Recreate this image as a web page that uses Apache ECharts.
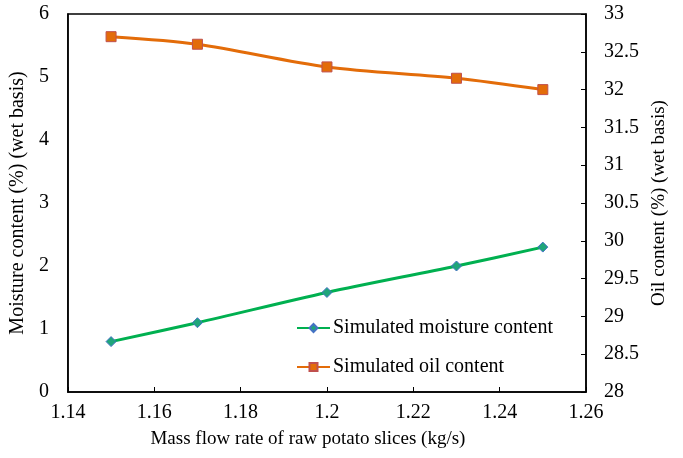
<!DOCTYPE html>
<html><head><meta charset="utf-8">
<script src="https://cdn.jsdelivr.net/npm/echarts@6/dist/echarts.min.js"></script>
<style>html,body{margin:0;padding:0;background:#fff}#c{width:683px;height:458px}</style>
</head><body><div id="c"></div>
<script>
var massFlow = [1.15, 1.17, 1.2, 1.23, 1.25];
var moisture = [0.8, 1.1, 1.58, 2.0, 2.3];
var oil = [32.7, 32.6, 32.3, 32.15, 32.0];
var seriesNames = ['Simulated moisture content', 'Simulated oil content'];

var font = 'Liberation Serif';
var chart = echarts.init(document.getElementById('c'));
chart.setOption({
  animation: false,
  grid: {left: 66, right: 97, top: 14, bottom: 66, show: true, borderColor: '#000', borderWidth: 1.5, backgroundColor: 'transparent'},
  legend: {
    orient: 'vertical', left: 291, top: 313, itemGap: 19, itemWidth: 33, itemHeight: 10,
    textStyle: {fontFamily: font, fontSize: 20, color: '#000', padding: [0, 0, 0, -2]},
    data: seriesNames
  },
  xAxis: {
    type: 'value', min: 1.14, max: 1.26, interval: 0.02,
    name: 'Mass flow rate of raw potato slices (kg/s)', nameLocation: 'middle', nameGap: 38,
    nameTextStyle: {fontFamily: font, fontSize: 19, color: '#000', padding: [0, 38, 0, 0]},
    axisLine: {lineStyle: {color: '#000', width: 1.5}},
    axisTick: {inside: true, length: 5, lineStyle: {color: '#000'}},
    axisLabel: {fontFamily: font, fontSize: 20, color: '#000', margin: 11, formatter: function(v){return String(+v.toFixed(2));}},
    splitLine: {show: false}
  },
  yAxis: [{
    type: 'value', min: 0, max: 6, interval: 1,
    name: 'Moisture content (%) (wet basis)', nameLocation: 'middle', nameGap: 32,
    nameTextStyle: {fontFamily: font, fontSize: 20, color: '#000'},
    axisLine: {show: true, lineStyle: {color: '#000', width: 1.5}},
    axisTick: {show: false},
    axisLabel: {fontFamily: font, fontSize: 20, color: '#000', margin: 19},
    splitLine: {show: false}
  }, {
    type: 'value', min: 28, max: 33, interval: 0.5, position: 'right',
    name: 'Oil content (%) (wet basis)', nameLocation: 'middle', nameGap: 64, nameRotate: 90,
    nameTextStyle: {fontFamily: font, fontSize: 19, color: '#000'},
    axisLine: {show: true, lineStyle: {color: '#000', width: 1.5}},
    axisTick: {show: true, inside: true, length: 5, lineStyle: {color: '#000'}},
    axisLabel: {fontFamily: font, fontSize: 20, color: '#000', margin: 18},
    splitLine: {show: false}
  }],
  series: [{
    name: seriesNames[0], type: 'line', yAxisIndex: 0, smooth: 0.3,
    data: massFlow.map(function(x, i){return [x, moisture[i]];}),
    symbol: 'diamond', symbolSize: 10,
    lineStyle: {color: '#00B050', width: 3},
    itemStyle: {color: '#1FA57A', borderColor: '#4472C4', borderWidth: 1}
  }, {
    name: seriesNames[1], type: 'line', yAxisIndex: 1, smooth: 0.3,
    data: massFlow.map(function(x, i){return [x, oil[i]];}),
    symbol: 'rect', symbolSize: 10,
    lineStyle: {color: '#E36C09', width: 3},
    itemStyle: {color: '#E36C09', borderColor: '#C0504D', borderWidth: 1}
  }]
});
</script></body></html>
